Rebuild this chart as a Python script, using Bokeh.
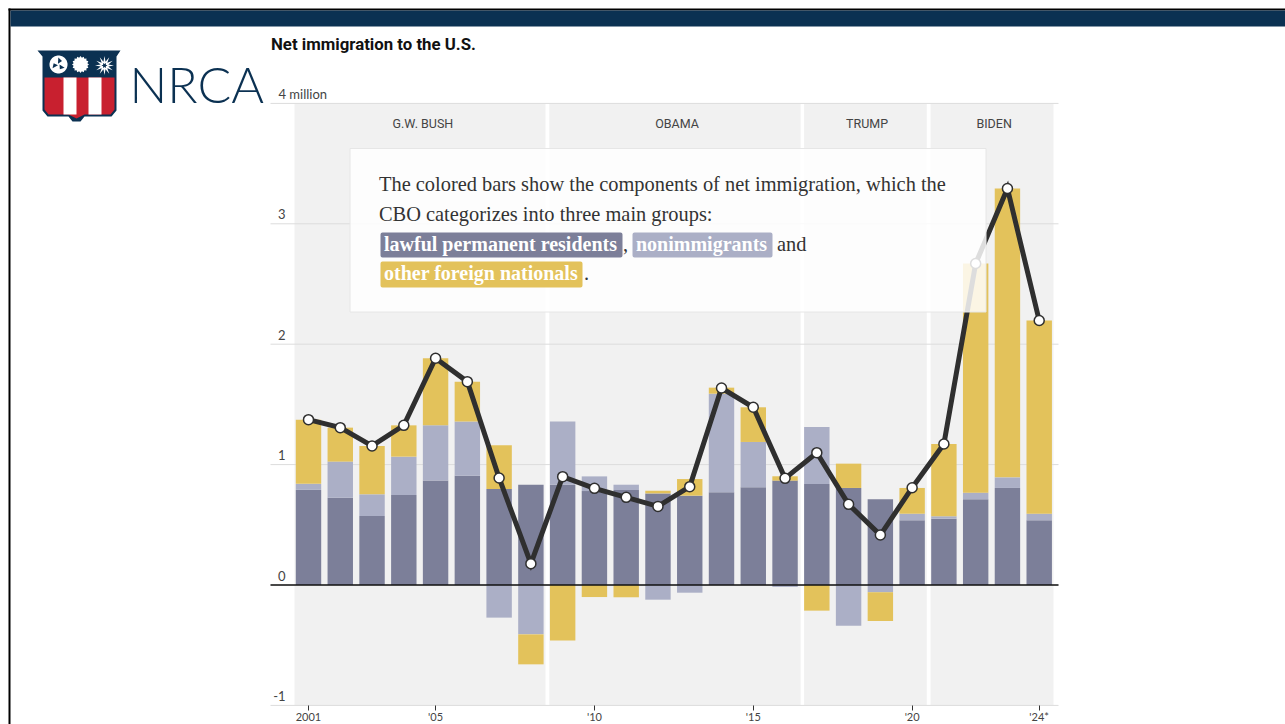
import numpy as np
from bokeh.plotting import figure
from bokeh.models import Label, FixedTicker, LinearAxis, Range1d
from bokeh.embed import file_html
from bokeh.resources import INLINE

TITLE = "Net immigration to the U.S."
years = list(range(2001, 2025))
lawful = [.79,.725,.573,.748,.867,.908,.797,.833,.833,.78,.789,.761,.742,.77,.811,.867,.839,.806,.712,.537,.551,.712,.806,.537]
nonimm = [.05,.30,.18,.318,.46,.449,-.271,-.41,.526,.122,.044,-.122,-.064,.819,.377,-.016,.473,-.338,-.06,.055,.02,.055,.088,.055]
other = [.533,.282,.402,.26,.556,.332,.363,-.249,-.462,-.10,-.102,.022,.138,.05,.288,.036,-.213,.202,-.239,.214,.60,1.903,2.399,1.605]
net = [1.373,1.307,1.155,1.326,1.883,1.689,.889,.177,.90,.803,.728,.653,.817,1.636,1.476,.886,1.099,.67,.415,.808,1.171,2.67,3.293,2.197]
terms = ["G.W. BUSH", "OBAMA", "TRUMP", "BIDEN"]
term_start = [2000.56, 2008.58, 2016.60, 2020.58]
term_end = [2008.46, 2016.49, 2020.46, 2024.45]
term_mid = [2004.6, 2012.6, 2018.58, 2022.58]
tick_years = [2001, 2005, 2010, 2015, 2020, 2024]
tick_labels = ["2001", "'05", "'10", "'15", "'20", "'24*"]
y_ticks = [-1, 0, 1, 2, 3, 4]
y_labels = ["-1", "0", "1", "2", "3", " "]

LPR, NI, OTH, INK = "#7c7f99", "#abafc6", "#e3c25b", "#2f2f2f"
NAVY, RED = "#0b3152", "#c8202f"
SERIF, SANS = "Liberation Serif", "Lato"

W, H = 1285, 724
X_PX, Y_PX = 31.77, 120.4
def xd(px): return 2001 + (px - 308) / X_PX
def yd(py): return (584.5 - py) / Y_PX

LIFT = 9.5 / Y_PX        # tick labels sit above their grid lines
p = figure(width=W, height=H, output_backend="svg", toolbar_location=None,
           x_range=(xd(0), xd(W)), y_range=(yd(H), yd(0)), y_axis_type=None,
           min_border=0, background_fill_color="white", border_fill_color="white")
p.outline_line_color = None
p.grid.visible = False
p.extra_y_ranges = {"labels": Range1d(yd(H) - LIFT, yd(0) - LIFT)}

ax = p.xaxis[0]
ax.fixed_location = -1
ax.ticker = FixedTicker(ticks=tick_years)
ax.major_label_overrides = dict(zip(tick_years, tick_labels))
ax.axis_line_color = None
ax.major_tick_line_color = "#333333"
ax.major_tick_line_width = 1
ax.major_tick_in = 0
ax.major_tick_out = 5
ax.minor_tick_line_color = None
ax.major_label_text_font = SANS
ax.major_label_text_font_size = "11px"
ax.major_label_text_color = "#444444"
ax.major_label_standoff = 0

ay = LinearAxis(y_range_name="labels", fixed_location=xd(286))
ay.ticker = FixedTicker(ticks=y_ticks)
ay.major_label_overrides = dict(zip(y_ticks, y_labels))
ay.axis_line_color = None
ay.major_tick_line_color = None
ay.major_tick_in = 0
ay.major_tick_out = 0
ay.minor_tick_line_color = None
ay.major_label_text_font = SANS
ay.major_label_text_font_size = "13px"
ay.major_label_text_color = "#444444"
ay.major_label_standoff = 1
p.add_layout(ay, "left")

def rect(l, r, t, b, color, alpha=1, line=None, radius=0):
    if radius:
        p.quad(left=[xd(l)], right=[xd(r)], top=[yd(t)], bottom=[yd(b)], fill_color=color, fill_alpha=alpha,
               line_color=color, line_width=radius, line_join="round", line_alpha=alpha)
    else:
        p.quad(left=[xd(l)], right=[xd(r)], top=[yd(t)], bottom=[yd(b)], fill_color=color, fill_alpha=alpha, line_color=line)

# presidential bands and grid
p.quad(left=term_start, right=term_end, bottom=-1, top=4, fill_color="#f1f1f1", line_color=None)
p.segment(x0=[xd(270)] * len(y_ticks), x1=[xd(1058)] * len(y_ticks), y0=y_ticks, y1=y_ticks,
          line_color="#dcdcdc", line_width=1)

# stacked bars
la, ni, ot = np.array(lawful), np.array(nonimm), np.array(other)
ni_pos, ni_neg = np.clip(ni, 0, None), np.clip(ni, None, 0)
ot_pos, ot_neg = np.clip(ot, 0, None), np.clip(ot, None, 0)
BW = 0.8
p.vbar(x=years, width=BW, bottom=0, top=la, fill_color=LPR, line_color=None)
p.vbar(x=years, width=BW, bottom=la, top=la + ni_pos, fill_color=NI, line_color=None)
p.vbar(x=years, width=BW, bottom=la + ni_pos, top=la + ni_pos + ot_pos, fill_color=OTH, line_color=None)
p.vbar(x=years, width=BW, bottom=ni_neg, top=0, fill_color=NI, line_color=None)
p.vbar(x=years, width=BW, bottom=ni_neg + ot_neg, top=ni_neg, fill_color=OTH, line_color=None)
p.segment(x0=[xd(270)], x1=[xd(1058)], y0=[0], y1=[0], line_color="#111111", line_width=1.5)

# net line
p.line(years, net, line_color=INK, line_width=5, line_join="miter")
p.scatter(years, net, size=10, fill_color="white", line_color=INK, line_width=1.5)

def text(px_x, py, s, font=SANS, size="13px", color="#444444", style="normal", align="left"):
    p.add_layout(Label(x=px_x, y=yd(py), text=s, text_align=align, text_baseline="middle",
                       text_font=font, text_font_size=size, text_font_style=style, text_color=color))

for name, x in zip(terms, term_mid):
    text(x, 123, name, font="Roboto", size="12.5px", align="center")
text(xd(278), 93.5, "4 million")
text(xd(270.5), 43, TITLE, font="Roboto", size="16.8px", color="#111111", style="bold")

# note panel
rect(349.5, 985.5, 148, 311.5, "white", alpha=0.84, line="#e6e6e6")
rect(382, 620, 234, 255, LPR, radius=4)
rect(634, 770, 234, 255, NI, radius=4)
rect(382, 580, 263, 285, OTH, radius=4)

def note(px, py, s, color="#333333", style="normal"):
    size = "20px" if style == "bold" else "20.4px"
    text(xd(px), py, s, font=SERIF, size=size, color=color, style=style)
note(378.5, 183.5, "The colored bars show the components of net immigration, which the")
note(378.5, 213, "CBO categorizes into three main groups:")
note(383.5, 243, "lawful permanent residents", "white", "bold")
note(622.5, 243, ",")
note(635.5, 243, "nonimmigrants", "white", "bold")
note(776.5, 243, "and")
note(383.5, 272, "other foreign nationals", "white", "bold")
note(583.5, 272, ".")

# page frame and header band
rect(8, 1285, 8, 10, "#000000")
rect(8, 10, 8, 724, "#000000")
rect(10, 1285, 10, 26, NAVY)

# logo
def poly(pts, color):
    p.patch([xd(a) for a, _ in pts], [yd(b) for _, b in pts], fill_color=color, line_color=None)
poly([(37,50),(120,50),(116,56),(116,110),(111,116),(84,116),(80,121),(72,121),(68,116),(47,116),(42,110),(42,56)], NAVY)
poly([(44,77),(114,77),(114,109),(110,114),(84,114),(76,118),(68,114),(48,114),(44,109)], RED)
poly([(63,77),(76,77),(76,114),(63,114)], "white")
poly([(88,77),(101,77),(101,114),(88,114)], "white")
def ring(cx, cy, r1, r2, n):
    t = np.linspace(0, 2*np.pi, 2*n, endpoint=False)
    r = np.where(np.arange(2*n) % 2 == 0, r1, r2)
    return list(zip(cx + r*np.cos(t), cy + r*np.sin(t)))
poly(ring(58, 64, 9, 9, 30), "white")
for k in range(3):
    a = k*2*np.pi/3
    poly([(58+np.cos(a), 64+np.sin(a)), (58+7*np.cos(a+.5), 64+7*np.sin(a+.5)), (58+5*np.cos(a+1.3), 64+5*np.sin(a+1.3))], NAVY)
poly(ring(80, 64, 8.5, 7, 16), "white")
poly(ring(104, 65, 9.5, 4, 12), "white")
poly(ring(104, 65, 3, 1.5, 6), NAVY)
text(xd(129), 83, "NRCA", font="Lato Light", size="50px", color=NAVY)

open("out.html", "w").write(file_html(p, INLINE))
